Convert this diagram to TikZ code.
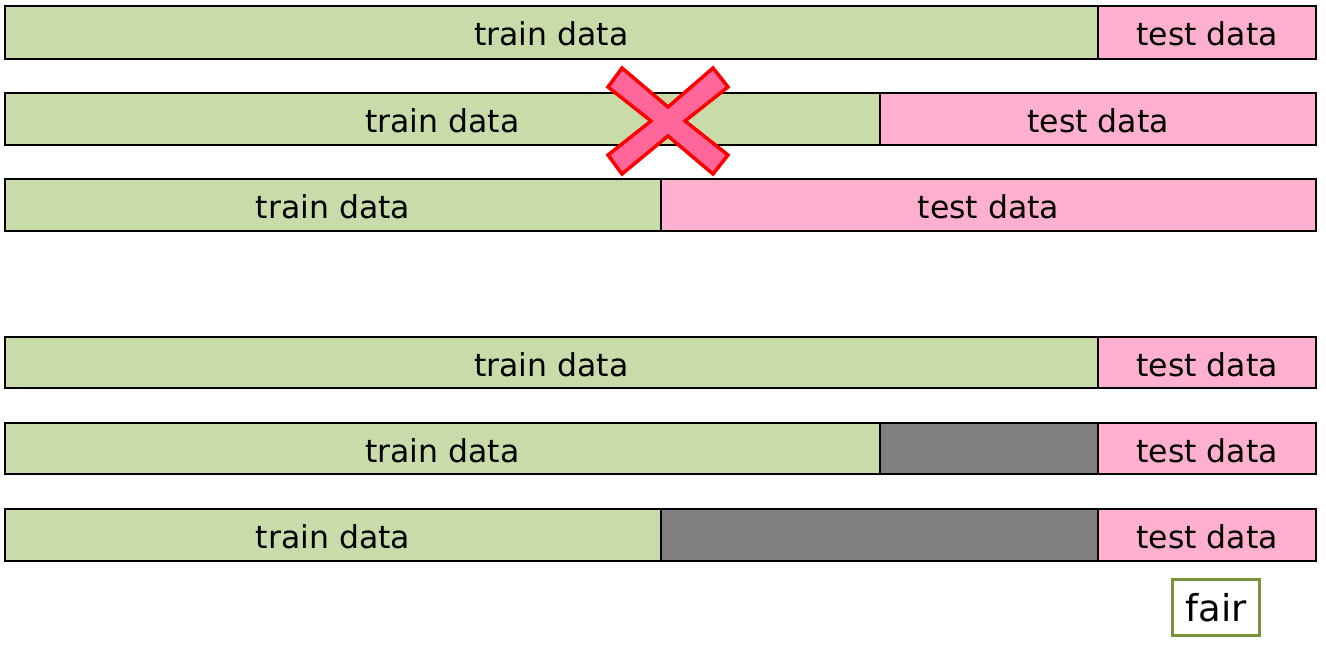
\documentclass[tikz,border=0pt]{standalone}
\usepackage{fontspec}
\setmainfont{DejaVu Sans}
\definecolor{traing}{HTML}{C8DBA9}
\definecolor{testp}{HTML}{FFB0CF}
\definecolor{gapg}{HTML}{808080}
\definecolor{xfill}{HTML}{FF6699}
\definecolor{fairg}{HTML}{77933C}
\begin{document}
\begin{tikzpicture}[x=1pt,y=-1pt,
  seg/.style={draw=black,line width=1.5pt,rectangle,inner sep=0pt,outer sep=0pt,anchor=north west,text height=27pt,text depth=0pt,font=\fontsize{31.5}{36}\selectfont},
  trainseg/.style={seg,fill=traing},
  testseg/.style={seg,fill=testp},
  gapseg/.style={seg,fill=gapg},
  crossmark/.style={draw=red,line width=3.5pt,fill=xfill,line join=miter},
  fairbox/.style={draw=fairg,line width=3.5pt,fill=white,rectangle,inner sep=0pt,minimum width=87pt,minimum height=56pt,font=\fontsize{37}{40}\selectfont}
]
\useasboundingbox (0,0) rectangle (1326,647);
% row 1
\node[trainseg,minimum width=1093pt,minimum height=53pt] (r1a) at (5,6) {train data};
\node[testseg,minimum width=218pt,minimum height=53pt] (r1b) at (1098,6) {test data};
% row 2
\node[trainseg,minimum width=875pt,minimum height=52pt] (r2a) at (5,93) {train data};
\node[testseg,minimum width=436pt,minimum height=52pt] (r2b) at (880,93) {test data};
% row 3
\node[trainseg,minimum width=656pt,minimum height=52pt] (r3a) at (5,179) {train data};
\node[testseg,minimum width=655pt,minimum height=52pt] (r3b) at (661,179) {test data};
% row 4
\node[trainseg,minimum width=1093pt,minimum height=51pt] (r4a) at (5,337) {train data};
\node[testseg,minimum width=218pt,minimum height=51pt] (r4b) at (1098,337) {test data};
% row 5
\node[trainseg,minimum width=875pt,minimum height=51pt] (r5a) at (5,423) {train data};
\node[gapseg,minimum width=218pt,minimum height=51pt] (r5g) at (880,423) {};
\node[testseg,minimum width=218pt,minimum height=51pt] (r5b) at (1098,423) {test data};
% row 6
\node[trainseg,minimum width=656pt,minimum height=52pt] (r6a) at (5,509) {train data};
\node[gapseg,minimum width=437pt,minimum height=52pt] (r6g) at (661,509) {};
\node[testseg,minimum width=218pt,minimum height=52pt] (r6b) at (1098,509) {test data};
% cross
\draw[crossmark] (622,68) -- (668,107) -- (713,68) -- (728,87) -- (685,121) -- (728,155) -- (713,174) -- (668,136) -- (622,174) -- (608,155) -- (651,121) -- (608,87) -- cycle;
% fair
\node[fairbox] (fair) at (1216,607.5) {fair};
\end{tikzpicture}
\end{document}
